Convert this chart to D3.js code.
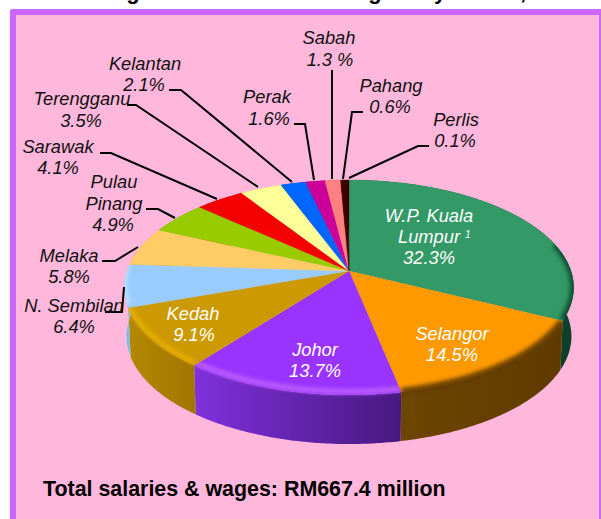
<!DOCTYPE html>
<html><head><meta charset="utf-8">
<script src="https://cdn.jsdelivr.net/npm/d3@7"></script>
<style>html,body{margin:0;padding:0;background:#fff;overflow:hidden}svg{display:block}
text{font-family:"Liberation Sans",Arial,sans-serif}</style></head><body>
<svg id="c" width="601" height="519"></svg>
<script>
// ---- data ----
const states = ["W.P. Kuala Lumpur","Selangor","Johor","Kedah","N. Sembilan","Melaka","Pulau Pinang","Sarawak","Terengganu","Kelantan","Perak","Sabah","Pahang","Perlis"];
const shares = [32.3,14.5,13.7,9.1,6.4,5.8,4.9,4.1,3.5,2.1,1.6,1.3,0.6,0.1];
const topColors  = ["#339966","#FF9900","#9933FF","#CC9900","#99CCFF","#FFCC66","#99CC00","#F50000","#FFFF99","#0066FF","#CC0099","#FF8080","#400000","#330000"];
const sideLeft   = ["#0F4F36","#6E4500","#8030DC","#B48800","#70B0E0","#C09040","#608000","#900000","#A0A060","#003090","#800060","#A05050","#200000","#200000"];
const sideRight  = ["#0C4029","#5F3A00","#471880","#A07600","#80C0F0","#C09040","#608000","#900000","#A0A060","#003090","#800060","#A05050","#200000","#200000"];
const rimColors  = ["#0F4A32","#643E00","#C56BFF","#EDB400","#C8E8FF",null,null,null,null,null,null,null,null,null];
const labelRows = [
  ["Kelantan",145,70],["2.1%",144,91],
  ["Terengganu",82,105],["3.5%",81,127],
  ["Sarawak",58,153],["4.1%",58,174],
  ["Pulau",114,188],["Pinang",114,210],["4.9%",113,231],
  ["Melaka",69,262],["5.8%",69,283],
  ["N. Sembilan",74,312],["6.4%",74,333],
  ["Perak",267,103],["1.6%",269,125],
  ["Sabah",329,44],["1.3 %",330,66],
  ["Pahang",391,92],["0.6%",390,113],
  ["Perlis",456,126],["0.1%",455,147]
];
const insideRows = [
  ["W.P. Kuala",429,222],["Lumpur",429,243],["32.3%",429,264],
  ["Selangor",452,340],["14.5%",452,361],
  ["Johor",315,356],["13.7%",315,377],
  ["Kedah",193,320],["9.1%",194,341]
];
const leaders = [
  [[169,90],[181,90],[292,182]],
  [[127,105],[136,105],[258,187]],
  [[100,153],[111,153],[217,199]],
  [[146,209],[158,209],[175,218]],
  [[102,261],[115,261],[138,247]],
  [[105,312],[122,312],[124,287]],
  [[294,124],[305,124],[314,180]],
  [[332,70],[332,179]],
  [[363,112],[352,112],[343,179]],
  [[429,146],[418,146],[349,178]]
];
const titleBits = [["g",133],["g",375],["y",440],[",",523]];
const footer = "Total salaries & wages: RM667.4 million";

// ---- layout ----
const W=601,H=519, cx=349, cy=271, persp=0.1535, depth=49;
const sx=d3.scaleLinear().domain([-1,1]).range([-222,222]);
const sy=d3.scaleLinear().domain([-1,1]).range([-105,105]);
function project(t){ const X=Math.sin(t),Y=-Math.cos(t),d=1-persp*Y; return [cx+sx(X)/d, cy+sy(Y)/d]; }
function arcPts(a0,a1){ const n=Math.max(2,Math.ceil((a1-a0)/0.01)); return d3.range(n+1).map(i=>project(a0+(a1-a0)*i/n)); }
const lower=p=>[cx+(p[0]-cx)*0.99,p[1]+depth];

const svg=d3.select("#c");
const line=d3.line();
const defs=svg.append("defs");
defs.append("filter").attr("id","soft").attr("x","-30%").attr("y","-30%").attr("width","160%").attr("height","160%")
  .append("feGaussianBlur").attr("stdDeviation",2.2);

svg.append("rect").attr("width",W).attr("height",H).attr("fill","#fff");
// clipped title
svg.append("g").selectAll("text").data(titleBits).join("text")
  .attr("x",d=>d[1]).attr("y",-1.5).attr("text-anchor","middle")
  .attr("font-size",22).attr("font-weight","bold").attr("fill","#000").text(d=>d[0]);
// frame
svg.append("rect").attr("x",10).attr("y",9).attr("width",W-10+6).attr("height",H-9+10).attr("rx",2).attr("fill","#CC66FF");
svg.append("rect").attr("x",16).attr("y",15).attr("width",583).attr("height",H-15+5).attr("fill","#FFB7DB");

const pie=d3.pie().sort(null).startAngle(0).endAngle(2*Math.PI);
const arcs=pie(shares);

// sides
arcs.forEach((d,i)=>{
  const pts=arcPts(d.startAngle,d.endAngle), low=pts.map(lower).reverse();
  const xs=d3.extent(pts,p=>p[0]);
  const gid="side"+i;
  const g=defs.append("linearGradient").attr("id",gid).attr("gradientUnits","userSpaceOnUse")
    .attr("x1",xs[0]).attr("x2",xs[1]).attr("y1",0).attr("y2",0);
  g.append("stop").attr("offset",0).attr("stop-color",sideLeft[i]);
  g.append("stop").attr("offset",1).attr("stop-color",sideRight[i]);
  defs.append("clipPath").attr("id","clip"+i).append("path")
    .attr("d",line([[cx,cy],...pts])+"Z "+line([...pts,...low])+"Z");
});
const gs=svg.append("g");
arcs.forEach((d,i)=>{
  const pts=arcPts(d.startAngle,d.endAngle), low=pts.map(lower).reverse();
  gs.append("path").attr("d",line([...pts,...low])+"Z").attr("fill",`url(#side${i})`);
});
// top faces
svg.append("g").selectAll("path").data(arcs).join("path")
  .attr("d",(d)=>line([[cx,cy],...arcPts(d.startAngle,d.endAngle)])+"Z")
  .attr("fill",(d,i)=>topColors[i]).attr("stroke",(d,i)=>topColors[i]).attr("stroke-width",0.3);
// bevel along the front rim
const rimFrom=75*Math.PI/180, rimTo=290*Math.PI/180;
const gr=svg.append("g");
arcs.forEach((d,i)=>{
  if(!rimColors[i]) return;
  const a0=Math.max(d.startAngle,rimFrom), a1=Math.min(d.endAngle,rimTo);
  if(a1<=a0) return;
  const light=d3.hsl(rimColors[i]).l>0.4;
  const pts=arcPts(a0,a1).map(p=>[p[0],p[1]-(light?3.5:0.5)]);
  gr.append("g").attr("clip-path",`url(#clip${i})`).append("path")
    .attr("d",line(pts)).attr("fill","none").attr("stroke",rimColors[i])
    .attr("stroke-width",light?4:7).attr("filter","url(#soft)");
});
// leaders
svg.append("g").selectAll("path").data(leaders).join("path")
  .attr("d",d=>line(d)).attr("fill","none").attr("stroke","#000").attr("stroke-width",2);
// labels
const italic=(sel,rows,fill)=>sel.selectAll("text").data(rows).join("text")
  .attr("x",d=>d[1]).attr("y",d=>d[2]).attr("text-anchor","middle")
  .attr("font-size",18.3).attr("font-style","italic").attr("fill",fill).text(d=>d[0]);
italic(svg.append("g"),labelRows,"#111");
italic(svg.append("g"),insideRows,"#fff");
svg.append("text").attr("x",465).attr("y",238).attr("font-size",10).attr("font-style","italic").attr("fill","#fff").text("1");
svg.append("text").attr("x",43).attr("y",496).attr("font-size",21.4).attr("font-weight","bold").attr("fill","#000").text(footer);
</script></body></html>
